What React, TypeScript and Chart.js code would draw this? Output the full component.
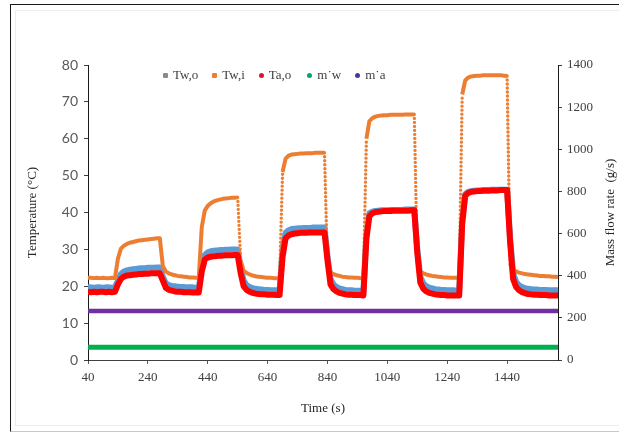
import { useEffect, useRef } from "react";
import { Chart, registerables } from "chart.js";

Chart.register(...registerables);

// Sample times (s), logged every 10 s
const timeS = [
  40, 50, 60, 70, 80, 90, 100, 110, 120, 130,
  140, 150, 160, 170, 180, 190, 200, 210, 220, 230,
  240, 250, 260, 270, 280, 290, 300, 310, 320, 330,
  340, 350, 360, 370, 380, 390, 400, 410, 420, 430,
  440, 450, 460, 470, 480, 490, 500, 510, 520, 530,
  540, 550, 560, 570, 580, 590, 600, 610, 620, 630,
  640, 650, 660, 670, 680, 690, 700, 710, 720, 730,
  740, 750, 760, 770, 780, 790, 800, 810, 820, 830,
  840, 850, 860, 870, 880, 890, 900, 910, 920, 930,
  940, 950, 960, 970, 980, 990, 1000, 1010, 1020, 1030,
  1040, 1050, 1060, 1070, 1080, 1090, 1100, 1110, 1120, 1130,
  1140, 1150, 1160, 1170, 1180, 1190, 1200, 1210, 1220, 1230,
  1240, 1250, 1260, 1270, 1280, 1290, 1300, 1310, 1320, 1330,
  1340, 1350, 1360, 1370, 1380, 1390, 1400, 1410, 1420, 1430,
  1440, 1450, 1460, 1470, 1480, 1490, 1500, 1510, 1520, 1530,
  1540, 1550, 1560, 1570, 1580, 1590, 1600, 1610,
];

// Water inlet temperature Tw,i (°C)
const twIn = [
  22.3, 22.3, 22.2, 22.3, 22.2, 22.3, 22.2, 22.2, 22.3, 22.2,
  27.5, 30.2, 31.0, 31.5, 31.8, 32.0, 32.2, 32.4, 32.5, 32.6, 32.7, 32.8, 32.9, 33.0, 33.0,
  25.5, 24.0, 23.5, 23.2, 23.0, 22.8, 22.7, 22.6, 22.5, 22.4, 22.4, 22.3, 22.3,
  36.0, 40.5, 41.8, 42.5, 43.0, 43.3, 43.5, 43.7, 43.8, 43.9, 44.0, 44.0, 44.1,
  27.0, 24.2, 23.6, 23.2, 22.9, 22.7, 22.6, 22.5, 22.4, 22.3, 22.3, 22.2, 22.2, 22.2,
  51.0, 54.6, 55.4, 55.7, 55.8, 55.9, 56.0, 56.0, 56.1, 56.1, 56.1, 56.2, 56.2, 56.2, 56.2,
  25.0, 23.8, 23.3, 23.0, 22.8, 22.6, 22.5, 22.4, 22.4, 22.3, 22.3, 22.2, 22.2,
  60.0, 64.8, 65.6, 66.0, 66.2, 66.3, 66.4, 66.4, 66.5, 66.5, 66.5, 66.5, 66.5, 66.6, 66.6, 66.6, 66.6,
  25.5, 24.0, 23.5, 23.2, 23.0, 22.8, 22.7, 22.6, 22.5, 22.4, 22.4, 22.3, 22.3, 22.3, 22.2,
  72.0, 75.8, 76.6, 76.9, 77.0, 77.1, 77.1, 77.2, 77.2, 77.2, 77.2, 77.2, 77.2, 77.2, 77.1, 77.0,
  26.0, 24.5, 24.0, 23.7, 23.5, 23.3, 23.2, 23.1, 23.0, 22.9, 22.8, 22.8, 22.7, 22.7, 22.6, 22.6, 22.5,
];

// Water outlet temperature Tw,o (°C)
const twOut = [
  19.7, 19.7, 19.6, 19.7, 19.7, 19.6, 19.7, 19.7, 19.6, 19.7,
  21.5, 23.3, 24.0, 24.3, 24.5, 24.6, 24.7, 24.8, 24.9, 24.9, 25.0, 25.0, 25.0, 25.1, 25.1,
  22.5, 20.8, 20.3, 20.1, 20.0, 19.9, 19.8, 19.8, 19.7, 19.7, 19.7, 19.6, 19.6,
  25.0, 28.5, 29.2, 29.5, 29.6, 29.7, 29.8, 29.8, 29.9, 29.9, 30.0, 30.0, 30.0,
  25.0, 21.5, 20.3, 19.8, 19.5, 19.3, 19.2, 19.1, 19.0, 19.0, 18.9, 18.9, 18.9, 18.8,
  30.0, 34.5, 35.2, 35.5, 35.6, 35.7, 35.7, 35.8, 35.8, 35.8, 35.9, 35.9, 35.9, 35.9, 35.9,
  28.0, 22.0, 20.5, 19.8, 19.4, 19.2, 19.0, 18.9, 18.9, 18.8, 18.8, 18.8, 18.7,
  34.0, 39.8, 40.2, 40.4, 40.5, 40.6, 40.6, 40.6, 40.7, 40.7, 40.7, 40.7, 40.7, 40.8, 40.8, 40.8, 40.8,
  30.0, 22.5, 20.8, 20.0, 19.6, 19.4, 19.2, 19.1, 19.0, 19.0, 18.9, 18.9, 18.9, 18.8, 18.8,
  38.0, 45.0, 45.6, 45.8, 45.9, 46.0, 46.0, 46.1, 46.1, 46.1, 46.2, 46.2, 46.2, 46.2, 46.2, 46.2,
  33.0, 23.5, 21.2, 20.2, 19.8, 19.5, 19.3, 19.2, 19.1, 19.1, 19.0, 19.0, 19.0, 18.9, 18.9, 18.9, 18.9,
];

// Air outlet temperature Ta,o (°C)
const taOut = [
  18.5, 18.4, 18.5, 18.4, 18.5, 18.5, 18.4, 18.5, 18.4, 18.5,
  20.5, 22.0, 22.6, 22.9, 23.0, 23.1, 23.2, 23.3, 23.3, 23.4, 23.4, 23.5, 23.5, 23.5, 23.5,
  21.5, 19.6, 19.0, 18.8, 18.6, 18.5, 18.5, 18.4, 18.4, 18.4, 18.3, 18.3, 18.3,
  24.0, 27.2, 27.8, 28.0, 28.1, 28.2, 28.3, 28.3, 28.4, 28.4, 28.4, 28.5, 28.5,
  23.5, 20.0, 19.0, 18.5, 18.2, 18.0, 17.9, 17.8, 17.8, 17.7, 17.7, 17.7, 17.6, 17.6,
  28.0, 33.0, 33.8, 34.1, 34.3, 34.4, 34.5, 34.5, 34.5, 34.6, 34.6, 34.6, 34.6, 34.6, 34.6,
  27.0, 20.5, 19.2, 18.6, 18.2, 18.0, 17.8, 17.7, 17.7, 17.6, 17.6, 17.6, 17.5,
  33.0, 39.0, 39.8, 40.1, 40.2, 40.3, 40.4, 40.4, 40.4, 40.5, 40.5, 40.5, 40.5, 40.5, 40.5, 40.6, 40.6,
  29.0, 21.0, 19.3, 18.6, 18.2, 18.0, 17.8, 17.7, 17.6, 17.6, 17.5, 17.5, 17.5, 17.5, 17.5,
  37.0, 44.5, 45.3, 45.6, 45.7, 45.8, 45.8, 45.9, 45.9, 45.9, 46.0, 46.0, 46.0, 46.1, 46.1, 46.1,
  32.0, 22.0, 19.8, 18.9, 18.4, 18.1, 17.9, 17.8, 17.7, 17.7, 17.6, 17.6, 17.6, 17.5, 17.5, 17.5, 17.5,
];

// Mass flow rates (g/s), held constant over the run
const flowTimeS = [40, 1610];
const waterFlow = [61, 61];
const airFlow = [232, 232];

// Axis ticks and labels
const timeTicks = [40, 240, 440, 640, 840, 1040, 1240, 1440];
const tempAxisTitle = "Temperature (°C)";
const flowAxisTitle = "Mass flow rate  (g/s)";
const timeAxisTitle = "Time (s)";

const seriesNames = ["Tw,o", "Tw,i", "Ta,o", "m˙w", "m˙a"];
const lineColors = ["#5B9BD5", "#ED7D31", "#FF0000", "#00B050", "#7030A0"];
const legendMarkColors = ["#8a8a8a", "#ED7D31", "#E01030", "#00A862", "#4636A8"];

const SERIF = "'Liberation Serif', 'Times New Roman', serif";

const toPoints = (xs: number[], ys: number[]) => ys.map((y, i) => ({ x: xs[i], y }));

const steep = (ctx: any) => Math.abs(ctx.p1.parsed.y - ctx.p0.parsed.y) > 15;

const plainLabel = (v: any) => String(v);

const rightTitlePlugin = {
  id: "rightTitle",
  afterDraw(chart: any) {
    const s = chart.scales.y1;
    const ctx = chart.ctx;
    ctx.save();
    ctx.font = `13px ${SERIF}`;
    ctx.fillStyle = "#262626";
    ctx.translate(s.right - 8, (s.top + s.bottom) / 2);
    ctx.rotate(-Math.PI / 2);
    ctx.textAlign = "center";
    ctx.textBaseline = "middle";
    ctx.fillText(flowAxisTitle, 0, 0);
    ctx.restore();
  },
};

export default function App() {
  const canvasRef = useRef<HTMLCanvasElement>(null);

  useEffect(() => {
    const chart = new Chart(canvasRef.current!, {
      type: "line",
      data: {
        datasets: [
          {
            label: seriesNames[0],
            data: toPoints(timeS, twOut),
            borderColor: lineColors[0],
            borderWidth: 6,
            pointRadius: 0,
            borderJoinStyle: "round",
            yAxisID: "y",
            order: 2,
          },
          {
            label: seriesNames[1],
            data: toPoints(timeS, twIn),
            borderColor: lineColors[1],
            borderWidth: 4,
            pointRadius: 0,
            borderJoinStyle: "round",
            yAxisID: "y",
            order: 1,
            segment: {
              borderDash: (ctx: any) => (steep(ctx) ? [0, 4] : undefined),
              borderWidth: (ctx: any) => (steep(ctx) ? 3.4 : undefined),
              borderCapStyle: (ctx: any) => (steep(ctx) ? "round" : undefined),
            },
          },
          {
            label: seriesNames[2],
            data: toPoints(timeS, taOut),
            borderColor: lineColors[2],
            borderWidth: 6,
            pointRadius: 0,
            borderJoinStyle: "round",
            yAxisID: "y",
            order: 0,
          },
          {
            label: seriesNames[3],
            data: toPoints(flowTimeS, waterFlow),
            borderColor: lineColors[3],
            borderWidth: 5,
            pointRadius: 0,
            yAxisID: "y1",
            order: 3,
          },
          {
            label: seriesNames[4],
            data: toPoints(flowTimeS, airFlow),
            borderColor: lineColors[4],
            borderWidth: 4.5,
            pointRadius: 0,
            yAxisID: "y1",
            order: 4,
          },
        ],
      },
      options: {
        responsive: false,
        animation: false,
        devicePixelRatio: 1,
        layout: { padding: { top: 65, left: 0, right: 0, bottom: 0 } },
        plugins: { legend: { display: false }, tooltip: { enabled: false } },
        scales: {
          x: {
            type: "linear",
            min: 40,
            max: 1610,
            afterBuildTicks: (s: any) => {
              s.ticks = timeTicks.map((v) => ({ value: v }));
            },
            afterFit: (s: any) => {
              s.height = 72;
            },
            grid: { drawOnChartArea: false, tickLength: 4, color: "#595959" },
            border: { display: true, color: "#404040", width: 1 },
            ticks: {
              autoSkip: false,
              maxRotation: 0,
              padding: 6,
              color: "#404040",
              font: { family: SERIF, size: 13 },
              callback: plainLabel,
            },
            title: {
              display: true,
              text: timeAxisTitle,
              color: "#262626",
              font: { family: SERIF, size: 13 },
              padding: { top: 0, bottom: 16 },
            },
          },
          y: {
            position: "left",
            min: 0,
            max: 80,
            afterFit: (s: any) => {
              s.width = 88;
            },
            grid: { drawOnChartArea: false, tickLength: 4, color: "#404040" },
            border: { display: true, color: "#1a1a1a", width: 1 },
            ticks: {
              stepSize: 10,
              padding: 6,
              color: "#595959",
              font: { family: "Lato, sans-serif", size: 14 },
              callback: plainLabel,
            },
            title: {
              display: true,
              text: tempAxisTitle,
              color: "#262626",
              font: { family: SERIF, size: 13 },
              padding: { top: 25, bottom: 0 },
            },
          },
          y1: {
            position: "right",
            min: 0,
            max: 1400,
            afterFit: (s: any) => {
              s.width = 61;
            },
            grid: { drawOnChartArea: false, tickLength: 4, color: "#404040" },
            border: { display: true, color: "#1a1a1a", width: 1 },
            ticks: {
              stepSize: 200,
              padding: 5,
              color: "#404040",
              font: { family: SERIF, size: 13 },
              callback: plainLabel,
            },
          },
        },
      },
      plugins: [rightTitlePlugin],
    } as any);
    return () => chart.destroy();
  }, []);

  return (
    <div
      style={{
        position: "absolute",
        left: 0,
        top: 0,
        width: 619,
        height: 432,
        overflow: "hidden",
        background: "#fff",
      }}
    >
      <div
        style={{
          position: "absolute",
          left: 10,
          top: 4,
          width: 640,
          height: 426,
          borderLeft: "1px solid #1a1a1a",
          borderTop: "1px solid #1a1a1a",
          borderBottom: "1px solid #c8c8c8",
        }}
      />
      <div
        style={{
          position: "absolute",
          left: 15,
          top: 10,
          width: 640,
          height: 414,
          border: "1px solid #ececec",
        }}
      />
      <canvas
        ref={canvasRef}
        width={619}
        height={432}
        style={{ position: "absolute", left: 0, top: 0 }}
      />
      <div
        style={{
          position: "absolute",
          left: 163,
          top: 67,
          height: 16,
          display: "flex",
          alignItems: "center",
          fontFamily: SERIF,
          fontSize: 13,
          color: "#404040",
          whiteSpace: "nowrap",
        }}
      >
        {seriesNames.map((name, i) => (
          <span
            key={name}
            style={{ display: "flex", alignItems: "center", marginRight: i === 2 ? 16 : 14 }}
          >
            <span
              style={{
                display: "inline-block",
                width: 5,
                height: 5,
                borderRadius: i < 2 ? 1 : "50%",
                background: legendMarkColors[i],
                marginRight: 5,
              }}
            />
            {name}
          </span>
        ))}
      </div>
    </div>
  );
}
